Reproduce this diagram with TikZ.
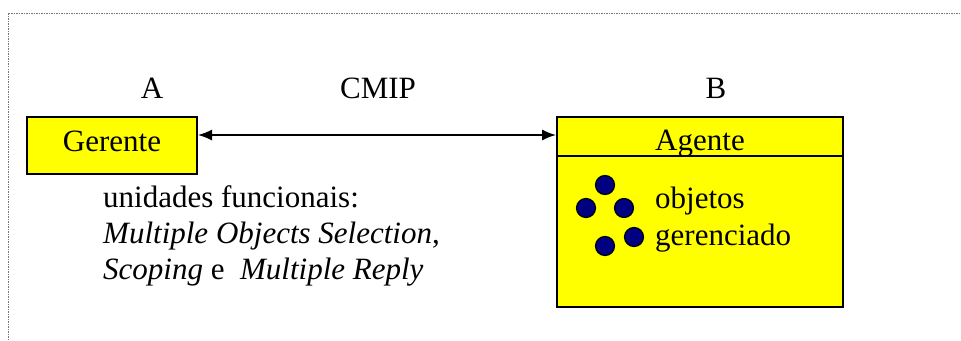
\documentclass[tikz,border=0pt]{standalone}
\usepackage{fontspec}
\setmainfont{Liberation Serif}
\newfontfamily\tnr{Liberation Serif}
\usetikzlibrary{arrows.meta,calc}
\definecolor{boxyellow}{RGB}{255,255,0}
\definecolor{dotnavy}{RGB}{0,0,128}
\definecolor{framegray}{RGB}{120,120,120}
\begin{document}
\begin{tikzpicture}[x=1pt,y=-1pt,
  every node/.style={font=\tnr\fontsize{31}{36}\selectfont, inner sep=0pt},
  ybox/.style={draw=black, line width=2pt, fill=boxyellow, rectangle},
  lbl/.style={anchor=base},
  txt/.style={anchor=base west},
  obj/.style={circle, draw=black, line width=1.2pt, fill=dotnavy, minimum size=19pt},
  conn/.style={line width=1.5pt, {Latex[length=14pt,width=11pt]}-{Latex[length=14pt,width=11pt]}}
]
\useasboundingbox (0,0) rectangle (961,340);
% outer dotted frame
\draw[framegray, line width=1pt, dash pattern=on 1.5pt off 1pt] (8,340) -- (8,13) -- (961,13);

% labels
\node[lbl] (la) at (152,98) {A};
\node[lbl] (lcmip) at (378,98) {CMIP};
\node[lbl] (lb) at (716,98) {B};

% Gerente box
\node[ybox, minimum width=170pt, minimum height=57pt] (ger) at (112,145.5) {};
\node[lbl] (gert) at (112,151) {Gerente};

% Agente box
\node[ybox, minimum width=286pt, minimum height=190pt] (age) at (700,212) {};
\draw[line width=2pt] ([yshift=-40pt]age.north west) coordinate (divl) -- ([yshift=-40pt]age.north east) coordinate (divr);
\node[lbl] (aget) at (700,150) {Agente};

% connector
\draw[conn] ([yshift=-19pt]ger.north east) -- ([yshift=-19pt]age.north west);

% managed objects
\node[obj] (d1) at (605,185) {};
\node[obj] (d2) at (586,208) {};
\node[obj] (d3) at (624,208) {};
\node[obj] (d4) at (634,237) {};
\node[obj] (d5) at (605,246) {};
\node[txt] (obj1) at (655,208) {objetos};
\node[txt] (obj2) at (655,245) {gerenciado};

% functional units text
\node[txt] (u1) at (103,207) {unidades funcionais:};
\node[txt] (u2) at (103,243) {\textit{Multiple Objects Selection},};
\node[txt] (u3) at (103,279) {\textit{Scoping} e\ \ \textit{Multiple Reply}};
\end{tikzpicture}
\end{document}
